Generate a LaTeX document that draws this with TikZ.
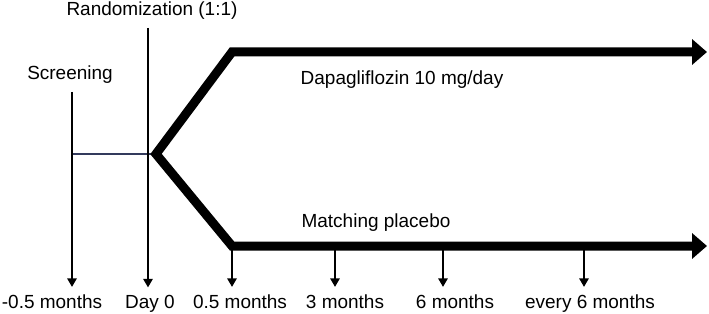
\documentclass[tikz,border=0pt]{standalone}
\usepackage{fontspec}
\setmainfont{Liberation Sans}
\usetikzlibrary{arrows.meta,positioning}
\definecolor{trialnavy}{HTML}{333A5C}
\tikzset{
  eventlabel/.style={
    anchor=base, inner sep=0pt,
    font=\fontsize{13.5}{16}\selectfont
  },
  armlabel/.style={
    anchor=base, inner sep=0pt,
    font=\fontsize{13.5}{16}\selectfont
  },
  visitlabel/.style={
    anchor=base, inner sep=0pt,
    font=\fontsize{13.5}{16}\selectfont
  },
  timearr/.style={-{Triangle[length=6pt,width=6.5pt]}, line width=1.4pt},
  runin/.style={draw=trialnavy, line width=1.3pt},
  armpath/.style={
    {Triangle[length=10.5pt,width=17.5pt]}-{Triangle[length=10.5pt,width=17.5pt]},
    line width=6.4pt, line join=miter
  }
}

\begin{document}
\begin{tikzpicture}[x=0.025cm, y=-0.025cm]
  \useasboundingbox (0,0) rectangle (709,314);

  %% ---- Events ----
  \node[eventlabel] (scr) at (70,80) {Screening};
  \node[eventlabel] (rnd) at (152,16) {Randomization (1:1)};
  \coordinate (scr_top) at (72,92);
  \coordinate (scr_mid) at (72,154);
  \coordinate (rnd_top) at (148,28);

  %% ---- Arms ----
  \coordinate (split) at (156,154);
  \coordinate (a_up) at (232,52);
  \coordinate (a_upend) at (707,52);
  \coordinate (a_lo) at (232,246);
  \coordinate (a_loend) at (707,246);
  \node[armlabel] (dapa) at (402,85) {Dapagliflozin 10 mg/day};
  \node[armlabel] (plac) at (376,227) {Matching placebo};

  %% ---- Visits ----
  \node[visitlabel] (v_m05) at (52,308) {-0.5 months};
  \node[visitlabel] (v_d0) at (150,308) {Day 0};
  \node[visitlabel] (v_05) at (240,308) {0.5 months};
  \node[visitlabel] (v_3) at (345,308) {3 months};
  \node[visitlabel] (v_6) at (455,308) {6 months};
  \node[visitlabel] (v_e6) at (590,308) {every 6 months};
  \coordinate (t_3) at (335,246);
  \coordinate (t_6) at (443,246);
  \coordinate (t_e6) at (584,246);

  %% Run-in and timeline
  \draw[runin] (scr_mid) -- (split);
  \draw[timearr, shorten >=5pt] (scr_top) -- (scr_top |- v_m05.north);
  \draw[timearr, shorten >=5pt] (rnd_top) -- (rnd_top |- v_d0.north);

  %% Treatment arms
  \draw[armpath] (a_upend) -- (a_up) -- (split) -- (a_lo) -- (a_loend);

  %% Follow-up visits
  \draw[timearr, shorten >=5pt] (a_lo) -- (a_lo |- v_05.north);
  \draw[timearr, shorten >=5pt] (t_3) -- (t_3 |- v_3.north);
  \draw[timearr, shorten >=5pt] (t_6) -- (t_6 |- v_6.north);
  \draw[timearr, shorten >=5pt] (t_e6) -- (t_e6 |- v_e6.north);

\end{tikzpicture}
\end{document}
